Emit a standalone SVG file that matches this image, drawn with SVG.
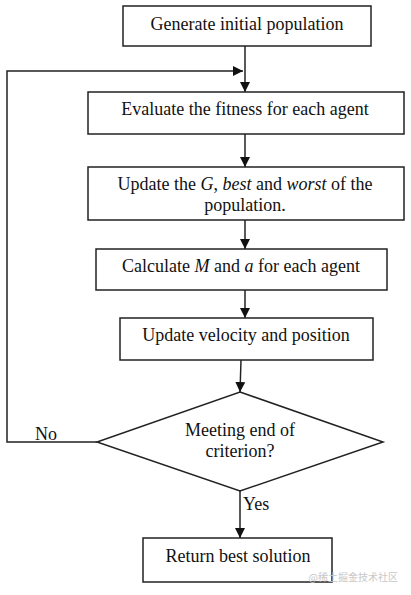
<svg xmlns="http://www.w3.org/2000/svg" width="411" height="595" viewBox="0 0 411 595">
<style>
.box{fill:#fff;stroke:#222;stroke-width:1.5}
.t{font-family:"Liberation Serif","Times New Roman",serif;font-size:18px;fill:#111;text-anchor:middle}
.l{font-family:"Liberation Serif","Times New Roman",serif;font-size:18px;fill:#111}
.c{fill:none;stroke:#222;stroke-width:1.5}
</style>
<defs>
<marker id="ah" viewBox="0 0 10 10" refX="10" refY="5" markerWidth="10" markerHeight="10" markerUnits="userSpaceOnUse" orient="auto">
<path d="M0,0 L10,5 L0,10 Z" fill="#111"/>
</marker>
</defs>
<rect width="411" height="595" fill="#fff"/>
<g id="connectors">
<line class="c" x1="245" y1="46" x2="245" y2="92" marker-end="url(#ah)"/>
<polyline class="c" points="97,442 7,442 7,71 243,71" marker-end="url(#ah)"/>
<line class="c" x1="245" y1="134" x2="245" y2="167" marker-end="url(#ah)"/>
<line class="c" x1="245" y1="220" x2="245" y2="249" marker-end="url(#ah)"/>
<line class="c" x1="245" y1="290" x2="245" y2="318" marker-end="url(#ah)"/>
<line class="c" x1="241" y1="360" x2="240" y2="392" marker-end="url(#ah)"/>
<line class="c" x1="240" y1="491" x2="240" y2="538" marker-end="url(#ah)"/>
<text class="l" x="35" y="440">No</text>
<text class="l" x="243" y="510">Yes</text>
</g>
<g id="n1"><rect class="box" x="123" y="6" width="248" height="40"/><text class="t" x="247" y="30">Generate initial population</text></g>
<g id="n2"><rect class="box" x="88" y="92" width="316" height="42"/><text class="t" x="245" y="115">Evaluate the fitness for each agent</text></g>
<g id="n3"><rect class="box" x="88" y="167" width="316" height="53"/><text class="t" x="245" y="190">Update the <tspan font-style="italic">G</tspan>, <tspan font-style="italic">best</tspan> and <tspan font-style="italic">worst</tspan> of the</text><text class="t" x="245" y="211">population.</text></g>
<g id="n4"><rect class="box" x="96" y="249" width="291" height="41"/><text class="t" x="241" y="272">Calculate <tspan font-style="italic">M</tspan> and <tspan font-style="italic">a</tspan> for each agent</text></g>
<g id="n5"><rect class="box" x="120" y="318" width="253" height="42"/><text class="t" x="246" y="341">Update velocity and position</text></g>
<g id="n6"><polygon class="box" points="240,392 383,442 240,491 97,442"/><text class="t" x="240" y="436">Meeting end of</text><text class="t" x="240" y="457">criterion?</text></g>
<g id="n7"><rect class="box" x="143" y="538" width="189" height="44"/><text class="t" x="238" y="562">Return best solution</text></g>
<text x="398" y="581" font-family="'Noto Sans CJK SC',sans-serif" font-size="10" fill="#c8c8c8" text-anchor="end">@稀土掘金技术社区</text>
</svg>
